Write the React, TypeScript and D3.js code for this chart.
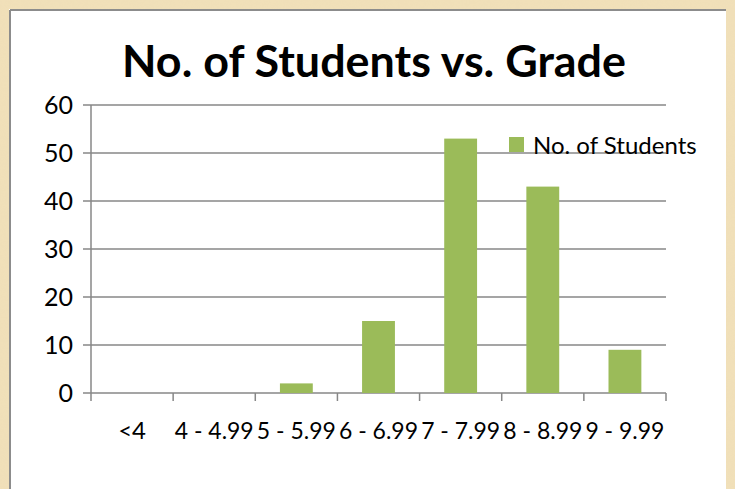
import React from "react";
import * as d3 from "d3";

// chart values
const categories = ["<4", "4 - 4.99", "5 - 5.99", "6 - 6.99", "7 - 7.99", "8 - 8.99", "9 - 9.99"];
const students = [0, 0, 2, 15, 53, 43, 9];
const yTicks = [0, 10, 20, 30, 40, 50, 60];
const seriesName = "No. of Students";
const title = "No. of Students vs. Grade";

const W = 735;
const H = 489;
const font = "Lato, 'Open Sans', sans-serif";

export default function App() {
  // plot area
  const plot = { left: 91, right: 666, top: 105, bottom: 393 };

  const x = d3
    .scaleBand<string>()
    .domain(categories)
    .range([plot.left, plot.right])
    .paddingInner(0.6)
    .paddingOuter(0.3);

  // outer band edges for the category tick marks
  const step = (plot.right - plot.left) / categories.length;

  const y = d3.scaleLinear().domain([0, 60]).range([plot.bottom, plot.top]);

  const grey = "#878787";
  const green = "#9BBB59";

  return (
    <svg
      width={W}
      height={H}
      style={{ position: "absolute", left: 0, top: 0, display: "block" }}
    >
      <defs>
        <filter id="parchment" x="0" y="0" width="100%" height="100%">
          <feTurbulence type="fractalNoise" baseFrequency="0.035" numOctaves={3} seed={4} />
          <feColorMatrix
            type="matrix"
            values="0 0 0 0 0.82  0 0 0 0 0.70  0 0 0 0 0.48  0 0 0 0.35 -0.05"
          />
        </filter>
      </defs>

      {/* parchment backdrop */}
      <rect x={0} y={0} width={W} height={H} fill="#F1E0B9" />
      <rect x={0} y={0} width={W} height={H} filter="url(#parchment)" opacity={0.5} />

      {/* chart box */}
      <rect x={9} y={9} width={717} height={H} fill="#FFFFFF" />
      <line x1={10} y1={10} x2={726} y2={10} stroke="#8C8C8C" strokeWidth={2} />
      <line x1={10} y1={10} x2={10} y2={H} stroke="#8C8C8C" strokeWidth={2} />

      {/* title */}
      <text
        x={374}
        y={77}
        textAnchor="middle"
        fontFamily={font}
        fontWeight="bold"
        fontSize={43}
        fill="#000"
        textLength={504}
        lengthAdjust="spacingAndGlyphs"
      >
        {title}
      </text>

      {/* gridlines + y ticks */}
      {yTicks.map(t => (
        <g key={t}>
          <line
            x1={plot.left - 8}
            x2={plot.right}
            y1={y(t)}
            y2={y(t)}
            stroke={grey}
            strokeWidth={1.5}
          />
          <text
            x={plot.left - 18}
            y={y(t)}
            dy="0.36em"
            textAnchor="end"
            fontFamily={font}
            fontSize={25}
            fill="#000"
          >
            {t}
          </text>
        </g>
      ))}

      {/* y axis */}
      <line x1={plot.left} x2={plot.left} y1={plot.top} y2={plot.bottom} stroke={grey} strokeWidth={1.5} />

      {/* bars */}
      {categories.map((c, i) => (
        <rect
          key={c}
          x={x(c)}
          y={y(students[i])}
          width={x.bandwidth()}
          height={plot.bottom - y(students[i])}
          fill={green}
        />
      ))}

      {/* x axis tick marks */}
      {d3.range(categories.length + 1).map(i => (
        <line
          key={i}
          x1={plot.left + i * step}
          x2={plot.left + i * step}
          y1={plot.bottom}
          y2={plot.bottom + 8}
          stroke={grey}
          strokeWidth={1.5}
        />
      ))}

      {/* x labels - the long ones just about touch, like the original */}
      {categories.map(c => (
        <text
          key={c}
          x={(x(c) ?? 0) + x.bandwidth() / 2}
          y={439}
          textAnchor="middle"
          fontFamily={font}
          fontSize={24}
          fill="#000"
          textLength={c.length > 2 ? 79 : undefined}
          lengthAdjust="spacingAndGlyphs"
        >
          {c}
        </text>
      ))}

      {/* legend */}
      <rect x={509} y={137} width={15} height={15} fill={green} />
      <text x={533} y={154} fontFamily={font} fontSize={24} fill="#000">
        {seriesName}
      </text>
    </svg>
  );
}
